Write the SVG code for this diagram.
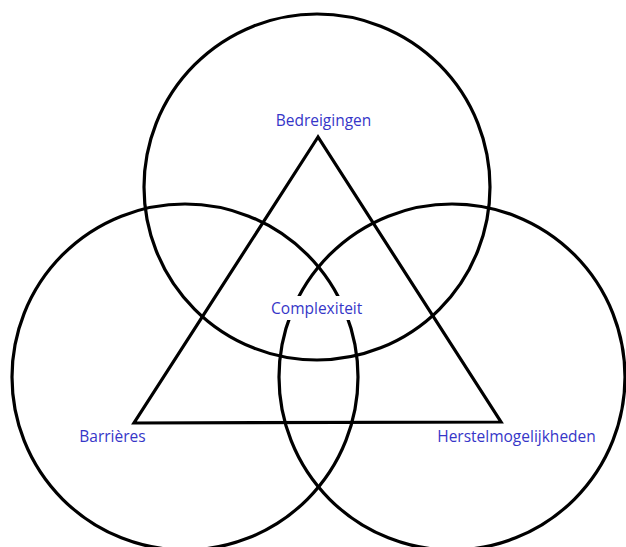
<svg xmlns="http://www.w3.org/2000/svg" width="626" height="547" viewBox="0 0 626 547">
<style>
.c{fill:none;stroke:#000;stroke-width:3.2}
.t{font-family:"Open Sans","Liberation Sans",sans-serif;font-size:15.5px;fill:#3636c8;text-anchor:middle}
</style>
<rect width="626" height="547" fill="#fff"/>
<g id="connectors">
<polygon class="c" points="318,137 134,423 501,422" stroke-linejoin="miter"/>
</g>
<g id="bedreigingen">
<circle class="c" cx="317" cy="187" r="173"/>
<text class="t" x="323.5" y="126">Bedreigingen</text>
</g>
<g id="barrieres">
<circle class="c" cx="185" cy="377" r="173"/>
<text class="t" x="112.5" y="442">Barrières</text>
</g>
<g id="herstelmogelijkheden">
<circle class="c" cx="452" cy="377" r="173"/>
<text class="t" x="516.5" y="442">Herstelmogelijkheden</text>
</g>
<g id="complexiteit">
<rect x="268" y="296" width="98" height="24" fill="#fff"/>
<text class="t" x="316.7" y="314">Complexiteit</text>
</g>
</svg>
